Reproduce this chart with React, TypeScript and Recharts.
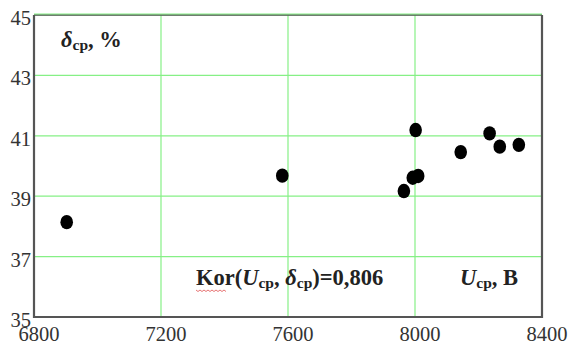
import React from "react";
import { ScatterChart, Scatter, XAxis, YAxis, CartesianGrid } from "recharts";

// average voltage, V
const uValues = [6903, 7582, 7965, 7993, 8002, 8010, 8144, 8235, 8267, 8327];
// average deviation, %
const deltaValues = [38.14, 39.68, 39.17, 39.61, 41.19, 39.67, 40.46, 41.08, 40.64, 40.7];

const xTicks = [6800, 7200, 7600, 8000, 8400];
const yTicks = [35, 37, 39, 41, 43, 45];

const data = uValues.map((u, i) => ({ u, d: deltaValues[i] }));

const W = 571;
const H = 345;
const serif = "Liberation Serif, serif";
const gridGreen = "#86f086";
const frame = "#555";

const Dot = (props: any) => {
  const { cx, cy } = props;
  if (cx == null || cy == null) return null;
  return <ellipse cx={cx} cy={cy} rx={6.3} ry={7.2} fill="#000" />;
};

const XTick = (props: any) => {
  const { x, y, payload } = props;
  return (
    <text x={x + 5} y={y + 24} textAnchor="middle" style={{ fontFamily: serif, fontSize: 20.5 }} fill="#333">
      {payload.value}
    </text>
  );
};

const YTick = (props: any) => {
  const { x, y, payload } = props;
  return (
    <text x={x - 3} y={y + 10} textAnchor="end" style={{ fontFamily: serif, fontSize: 20.5 }} fill="#333">
      {payload.value}
    </text>
  );
};

export default function App() {
  const left = 34, top = 15, right = 542, bottom = 317;
  const big = 22.5;
  const sub = 15.5;
  return (
    <div style={{ position: "absolute", left: 0, top: 0, width: W, height: H, background: "#fff", fontFamily: serif }}>
      <ScatterChart width={W} height={H} margin={{ top: top, right: W - right, bottom: 0, left: 0 }}>
        <CartesianGrid stroke={gridGreen} strokeWidth={1.2} />
        <XAxis
          type="number"
          dataKey="u"
          domain={[6800, 8400]}
          ticks={xTicks}
          height={H - bottom}
          tickSize={0}
          tickMargin={0}
          axisLine={false}
          tickLine={false}
          tick={<XTick />}
          interval={0}
        />
        <YAxis
          type="number"
          dataKey="d"
          domain={[35, 45]}
          ticks={yTicks}
          width={left}
          tickSize={0}
          tickMargin={0}
          axisLine={false}
          tickLine={false}
          tick={<YTick />}
          interval={0}
        />
        <Scatter data={data} shape={<Dot />} isAnimationActive={false} />
      </ScatterChart>
      <svg
        width={W}
        height={H}
        style={{ position: "absolute", left: 0, top: 0, pointerEvents: "none" }}
      >
        <polyline
          points={`${left},${top} ${left},${bottom} ${right},${bottom} ${right},${top}`}
          fill="none"
          stroke={frame}
          strokeWidth={2.2}
        />
        <line x1={left} y1={top} x2={right} y2={top} stroke={frame} strokeWidth={1.5} />
        <line x1={left} y1={top - 1} x2={right} y2={top - 1} stroke={gridGreen} strokeWidth={1.2} />
        <text x={61} y={47} style={{ fontFamily: serif }} fontSize={big} fontWeight="bold" fill="#222">
          <tspan fontStyle="italic">δ</tspan>
          <tspan fontSize={sub} dy={3}>cp</tspan>
          <tspan dy={-3}>, %</tspan>
        </text>
        <text x={196} y={285} style={{ fontFamily: serif }} fontSize={big} fontWeight="bold" fill="#222">
          <tspan>Kor(</tspan>
          <tspan fontStyle="italic">U</tspan>
          <tspan fontSize={sub} dy={3}>cp</tspan>
          <tspan dy={-3}>, </tspan>
          <tspan fontStyle="italic">δ</tspan>
          <tspan fontSize={sub} dy={3}>cp</tspan>
          <tspan dy={-3}>)=0,806</tspan>
        </text>
        <path
          d="M196,290 l2,1.5 l2,-1.5 l2,1.5 l2,-1.5 l2,1.5 l2,-1.5 l2,1.5 l2,-1.5 l2,1.5 l2,-1.5 l2,1.5 l2,-1.5 l2,1.5 l2,-1.5 l2,1.5"
          fill="none"
          stroke="#e05050"
          strokeWidth={0.8}
        />
        <text x={460} y={285} style={{ fontFamily: serif }} fontSize={big} fontWeight="bold" fill="#222">
          <tspan fontStyle="italic">U</tspan>
          <tspan fontSize={sub} dy={3}>cp</tspan>
          <tspan dy={-3}>, B</tspan>
        </text>
      </svg>
    </div>
  );
}
